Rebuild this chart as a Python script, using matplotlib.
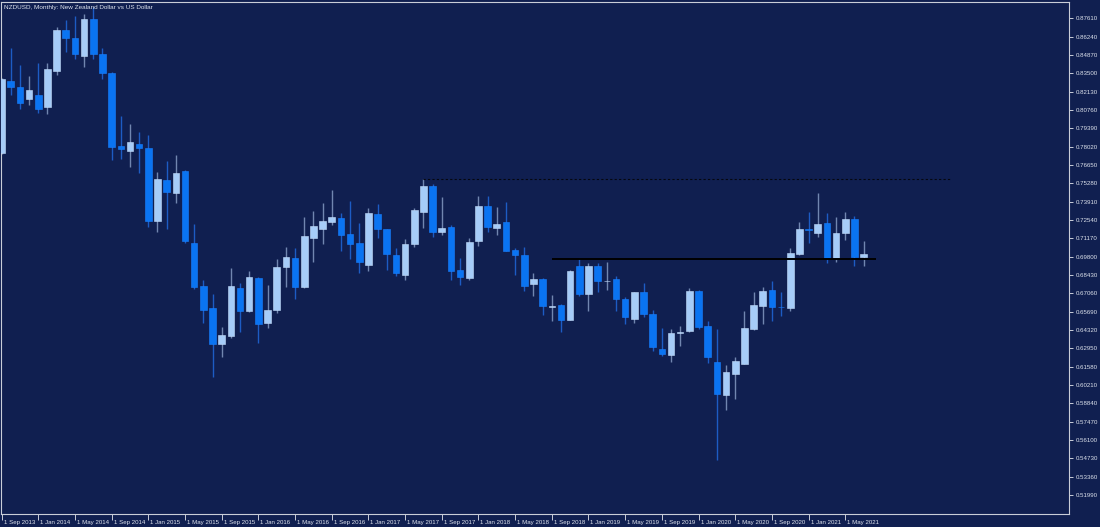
import matplotlib
matplotlib.use("Agg")
import matplotlib.pyplot as plt
import matplotlib.transforms as mtransforms
import numpy as np
import pandas as pd

# ---------------- data (NZDUSD monthly, Sep 2013 .. Jul 2021) ----------------
dates = pd.date_range("2013-09-01", periods=95, freq="MS")

opens = [0.7755, 0.8293, 0.8250, 0.8161, 0.8188, 0.8099, 0.8370, 0.8674, 0.8616, 0.8482,
         0.8756, 0.8495, 0.8355, 0.7807, 0.7770, 0.7822, 0.7790, 0.7249, 0.7553, 0.7458,
         0.7621, 0.7085, 0.6761, 0.6597, 0.6326, 0.6388, 0.6744, 0.6570, 0.6823, 0.6483,
         0.6582, 0.6901, 0.6968, 0.6754, 0.7122, 0.7185, 0.7242, 0.7267, 0.7148, 0.7080,
         0.6918, 0.7299, 0.7187, 0.6993, 0.6843, 0.7075, 0.7317, 0.7508, 0.7167, 0.7205,
         0.6881, 0.6819, 0.7098, 0.7359, 0.7197, 0.7237, 0.7030, 0.6993, 0.6779, 0.6814,
         0.6604, 0.6619, 0.6508, 0.6911, 0.6702, 0.6911, 0.6797, 0.6812, 0.6664, 0.6515,
         0.6719, 0.6552, 0.6291, 0.6246, 0.6408, 0.6425, 0.6724, 0.6463, 0.6192, 0.5942,
         0.6104, 0.6179, 0.6438, 0.6614, 0.6732, 0.6605, 0.6599, 0.6998, 0.7185, 0.7160,
         0.7230, 0.6973, 0.7160, 0.7262, 0.6976]
highs = [0.8315, 0.8542, 0.8412, 0.8330, 0.8430, 0.8430, 0.8699, 0.8749, 0.8781, 0.8793,
         0.8848, 0.8537, 0.8360, 0.8031, 0.7972, 0.7912, 0.7890, 0.7615, 0.7695, 0.7740,
         0.7625, 0.7225, 0.6806, 0.6702, 0.6453, 0.6894, 0.6786, 0.6874, 0.6828, 0.6769,
         0.6963, 0.7053, 0.7045, 0.7279, 0.7322, 0.7379, 0.7479, 0.7304, 0.7396, 0.7230,
         0.7346, 0.7372, 0.7190, 0.7048, 0.7113, 0.7342, 0.7559, 0.7523, 0.7429, 0.7217,
         0.6973, 0.7122, 0.7434, 0.7434, 0.7352, 0.7391, 0.7043, 0.7055, 0.6856, 0.6820,
         0.6694, 0.6625, 0.6881, 0.6968, 0.6931, 0.6931, 0.6936, 0.6836, 0.6677, 0.6712,
         0.6786, 0.6582, 0.6446, 0.6438, 0.6463, 0.6744, 0.6732, 0.6495, 0.6438, 0.6171,
         0.6233, 0.6577, 0.6712, 0.6756, 0.6794, 0.6719, 0.7043, 0.7237, 0.7317, 0.7459,
         0.7305, 0.7279, 0.7317, 0.7284, 0.7100]
lows = [0.7745, 0.8188, 0.8081, 0.8111, 0.8056, 0.8049, 0.8338, 0.8512, 0.8455, 0.8400,
        0.8457, 0.8308, 0.7703, 0.7708, 0.7653, 0.7603, 0.7205, 0.7167, 0.7185, 0.7384,
        0.7080, 0.6739, 0.6487, 0.6080, 0.6229, 0.6371, 0.6420, 0.6565, 0.6338, 0.6443,
        0.6562, 0.6752, 0.6664, 0.6749, 0.6943, 0.7075, 0.7217, 0.7023, 0.6963, 0.6856,
        0.6874, 0.7122, 0.6881, 0.6838, 0.6806, 0.7055, 0.7197, 0.7130, 0.7143, 0.6806,
        0.6769, 0.6806, 0.7063, 0.7167, 0.7143, 0.7025, 0.6843, 0.6724, 0.6682, 0.6540,
        0.6495, 0.6413, 0.6505, 0.6682, 0.6577, 0.6715, 0.6731, 0.6570, 0.6475, 0.6483,
        0.6532, 0.6271, 0.6239, 0.6192, 0.6313, 0.6420, 0.6438, 0.6184, 0.5457, 0.5830,
        0.5915, 0.6174, 0.6433, 0.6478, 0.6500, 0.6537, 0.6577, 0.6993, 0.7085, 0.7130,
        0.6935, 0.6938, 0.7105, 0.6913, 0.6913]
closes = [0.8308, 0.8250, 0.8131, 0.8226, 0.8082, 0.8383, 0.8674, 0.8612, 0.8492, 0.8756,
          0.8495, 0.8355, 0.7802, 0.7783, 0.7837, 0.7795, 0.7249, 0.7561, 0.7466, 0.7608,
          0.7098, 0.6756, 0.6582, 0.6328, 0.6393, 0.6762, 0.6577, 0.6826, 0.6475, 0.6582,
          0.6906, 0.6978, 0.6756, 0.7135, 0.7210, 0.7247, 0.7277, 0.7143, 0.7075, 0.6936,
          0.7309, 0.7187, 0.6998, 0.6856, 0.7075, 0.7329, 0.7508, 0.7167, 0.7197, 0.6876,
          0.6824, 0.7088, 0.7359, 0.7205, 0.7225, 0.7025, 0.6993, 0.6764, 0.6814, 0.6614,
          0.6607, 0.6508, 0.6876, 0.6702, 0.6913, 0.6801, 0.6800, 0.6664, 0.6525, 0.6712,
          0.6552, 0.6301, 0.6253, 0.6408, 0.6413, 0.6724, 0.6453, 0.6233, 0.5953, 0.6117,
          0.6201, 0.6446, 0.6622, 0.6724, 0.6607, 0.6602, 0.7006, 0.7187, 0.7182, 0.7225,
          0.6973, 0.7155, 0.7260, 0.6980, 0.6998]

y_ticks = [0.87610, 0.86240, 0.84870, 0.83500, 0.82130, 0.80760, 0.79390, 0.78020, 0.76650,
           0.75280, 0.73910, 0.72540, 0.71170, 0.69800, 0.68430, 0.67060, 0.65690, 0.64320,
           0.62950, 0.61580, 0.60210, 0.58840, 0.57470, 0.56100, 0.54730, 0.53360, 0.51990]
x_tick_labels = ["1 Sep 2013", "1 Jan 2014", "1 May 2014", "1 Sep 2014", "1 Jan 2015",
                 "1 May 2015", "1 Sep 2015", "1 Jan 2016", "1 May 2016", "1 Sep 2016",
                 "1 Jan 2017", "1 May 2017", "1 Sep 2017", "1 Jan 2018", "1 May 2018",
                 "1 Sep 2018", "1 Jan 2019", "1 May 2019", "1 Sep 2019", "1 Jan 2020",
                 "1 May 2020", "1 Sep 2020", "1 Jan 2021", "1 May 2021"]

support_level = 0.6961          # solid line
support_span = (60, 95.4)
resist_level = 0.7559           # dotted line
resist_span = (46, 103.4)

title = "NZDUSD, Monthly: New Zealand Dollar vs US Dollar"

# ---------------- style ----------------
BG = "#101f50"
FG = "#dde2ec"
BULL_BODY = "#a6ccf8"
BULL_WICK = "#7186b0"
BEAR_BODY = "#0a74f2"
BEAR_WICK = "#1d5cc4"

plt.rcParams["font.family"] = ["Liberation Sans", "DejaVu Sans"]

fig = plt.figure(figsize=(11, 5.27), dpi=100, facecolor=BG)
ax = fig.add_axes([1 / 1100, 13 / 527, 1068 / 1100, 512 / 527])
ax.set_facecolor(BG)

o = np.array(opens); h = np.array(highs); l = np.array(lows); c = np.array(closes)
idx = np.arange(len(o))
bull = c >= o

wick_colors = np.where(bull, BULL_WICK, BEAR_WICK)
ax.vlines(idx, l, h, colors=wick_colors, linewidth=1.0, zorder=2)

bottoms = np.minimum(o, c)
heights = np.maximum(np.abs(c - o), 0.00035)
ax.bar(idx[bull], heights[bull], bottom=bottoms[bull], width=0.72,
       color=BULL_BODY, edgecolor="#c4defc", linewidth=0.4, zorder=3)
ax.bar(idx[~bull], heights[~bull], bottom=bottoms[~bull], width=0.72,
       color=BEAR_BODY, edgecolor="#1a80ff", linewidth=0.4, zorder=3)

# level lines
ax.hlines(support_level, support_span[0], support_span[1], colors="#000000",
          linewidth=1.4, zorder=4)
ax.hlines(resist_level, resist_span[0], resist_span[1], colors="#05070f",
          linewidth=0.8, linestyles=(0, (2, 2)), zorder=4)

ax.set_xlim(-0.065, 116.4)
ax.set_ylim(0.50562, 0.8883)

# axes / ticks
for s in ax.spines.values():
    s.set_color("#c9cdd8")
    s.set_linewidth(0.8)

ax.yaxis.tick_right()
ax.set_yticks(y_ticks)
ax.set_yticklabels([f"{v:.5f}" for v in y_ticks])
ax.tick_params(axis="y", direction="out", length=3, width=0.7, colors="#c9cdd8",
               labelcolor=FG, labelsize=4.4, pad=1.5)

ax.set_xticks(idx[::4][:len(x_tick_labels)])
ax.set_xticklabels(x_tick_labels)
ax.tick_params(axis="x", direction="out", length=4, width=0.7, colors="#c9cdd8",
               labelcolor=FG, labelsize=4.4, pad=0.5)
offset = mtransforms.ScaledTranslation(2 / 100, 0, fig.dpi_scale_trans)
for lab in ax.get_xticklabels():
    lab.set_horizontalalignment("left")
    lab.set_transform(lab.get_transform() + offset)

ax.text(3 / 1068, 1 - 5 / 512, title, transform=ax.transAxes, color=FG,
        fontsize=4.6, ha="left", va="center")

fig.savefig("out.png", dpi=100, facecolor=BG)
